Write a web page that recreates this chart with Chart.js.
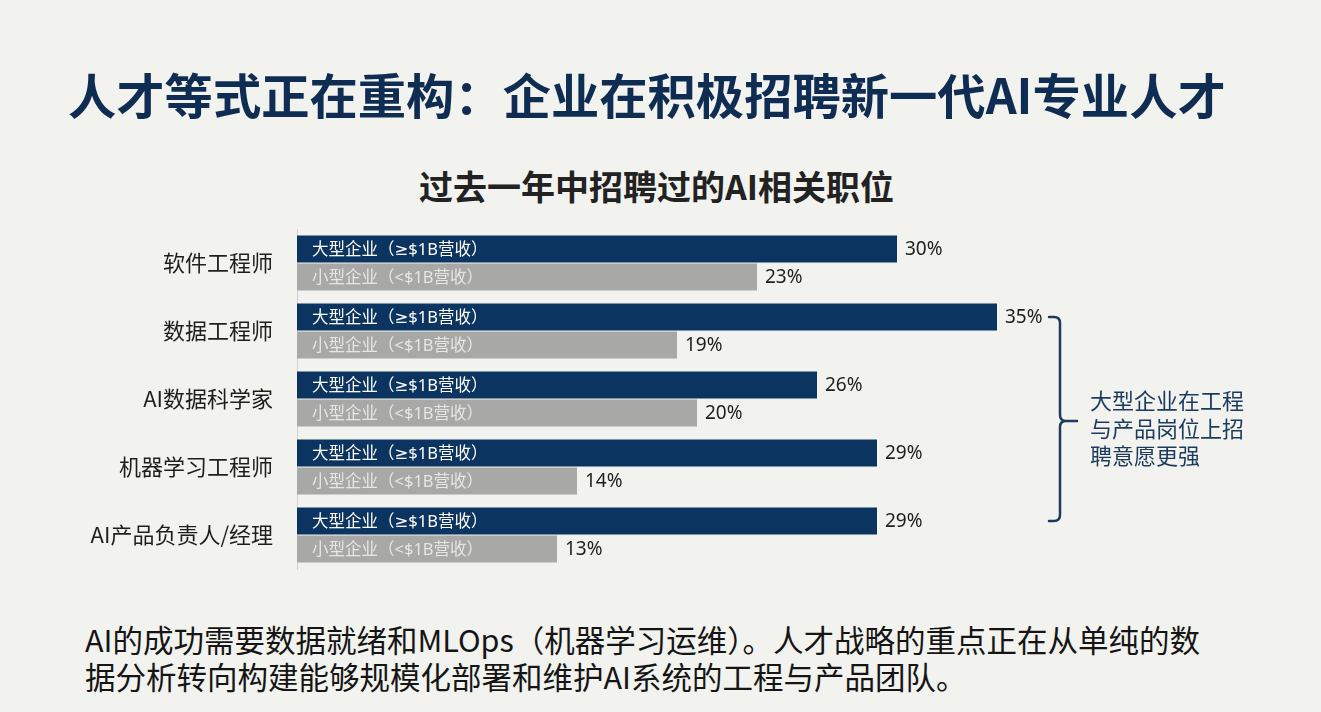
<!DOCTYPE html>
<html>
<head>
<meta charset="utf-8">
<script src="https://cdn.jsdelivr.net/npm/chart.js@4/dist/chart.umd.min.js"></script>
<style>
  html, body { margin:0; padding:0; }
  body { width:1321px; height:712px; background:#f2f2ee; position:relative; overflow:hidden;
         font-family:"Noto Sans CJK SC","Noto Sans",sans-serif; }
  #title { position:absolute; left:68px; top:69px; font-size:48.3px; line-height:48px; font-weight:700;
           color:#0f2d52; white-space:nowrap; }
  #subtitle { position:absolute; left:419px; top:169px; font-size:34px; line-height:34px; font-weight:700;
              color:#222; white-space:nowrap; }
  #note { position:absolute; left:1090px; top:386px; font-size:22px; line-height:27.5px; color:#1b3a5e; }
  #foot { position:absolute; left:85px; top:621px; font-size:30.5px; line-height:37px; color:#151515; white-space:nowrap; }
  #wrap { position:absolute; left:0; top:215px; width:1321px; height:370px; }
</style>
</head>
<body>
<div id="title">人才等式正在重构：企业在积极招聘新一代AI专业人才</div>
<div id="subtitle">过去一年中招聘过的AI相关职位</div>
<div id="wrap"><canvas id="c" width="1321" height="370"></canvas></div>
<div id="note">大型企业在工程<br>与产品岗位上招<br>聘意愿更强</div>
<div id="foot">AI的成功需要数据就绪和MLOps（机器学习运维）。人才战略的重点正在从单纯的数<br>据分析转向构建能够规模化部署和维护AI系统的工程与产品团队。</div>
<script>
const categories = ['软件工程师', '数据工程师', 'AI数据科学家', '机器学习工程师', 'AI产品负责人/经理'];
const seriesNames = ['大型企业（≥$1B营收）', '小型企业（<$1B营收）'];
const largeValues = [30, 35, 26, 29, 29];
const smallValues = [23, 19, 20, 14, 13];
const bracketFrom = 1; // 数据工程师
const bracketTo = 4;   // AI产品负责人/经理

const FONT = '"Noto Sans CJK SC", "Noto Sans", sans-serif';
const LABEL_FONT = '"Noto Sans", "DejaVu Sans", "Noto Sans CJK SC", sans-serif';

const labelPlugin = {
  id: 'labels',
  afterDatasetsDraw(chart) {
    const ctx = chart.ctx;
    ctx.save();
    ctx.textBaseline = 'middle';
    ctx.textAlign = 'left';
    chart.data.datasets.forEach((ds, di) => {
      const meta = chart.getDatasetMeta(di);
      meta.data.forEach((bar, i) => {
        ctx.font = '16.5px ' + LABEL_FONT;
        ctx.fillStyle = di === 0 ? '#ffffff' : '#e6e6e3';
        ctx.fillText(ds.label, bar.base + 15, bar.y + 1);
        ctx.font = '19px ' + LABEL_FONT;
        ctx.fillStyle = '#1e1e1e';
        ctx.fillText(ds.data[i] + '%', bar.x + 8, bar.y + 1);
      });
    });
    // bracket
    const x = chart.scales.x;
    const meta0 = chart.getDatasetMeta(0);
    const top = meta0.data[bracketFrom].y;
    const bottom = meta0.data[bracketTo].y;
    const mid = (top + bottom) / 2 + 2;
    const xL = x.getPixelForValue(37.6), xV = x.getPixelForValue(38.15), xT = x.getPixelForValue(39);
    const r = 6;
    ctx.strokeStyle = '#1e3a5f';
    ctx.lineWidth = 2.5;
    ctx.lineCap = 'round';
    ctx.beginPath();
    ctx.moveTo(xL, top);
    ctx.lineTo(xV - r, top);
    ctx.quadraticCurveTo(xV, top, xV, top + r);
    ctx.lineTo(xV, mid - r);
    ctx.quadraticCurveTo(xV, mid, xV + r, mid);
    ctx.lineTo(xT, mid);
    ctx.moveTo(xV + r, mid);
    ctx.quadraticCurveTo(xV, mid, xV, mid + r);
    ctx.lineTo(xV, bottom - r);
    ctx.quadraticCurveTo(xV, bottom, xV - r, bottom);
    ctx.lineTo(xL, bottom);
    ctx.stroke();
    ctx.restore();
  }
};

new Chart(document.getElementById('c'), {
  type: 'bar',
  data: {
    labels: categories,
    datasets: [
      { label: seriesNames[0], data: largeValues, backgroundColor: '#0c3461', borderWidth: 0,
        categoryPercentage: 0.82, barPercentage: 0.965 },
      { label: seriesNames[1], data: smallValues, backgroundColor: '#a8a8a7', borderWidth: 0,
        categoryPercentage: 0.82, barPercentage: 0.965 }
    ]
  },
  options: {
    indexAxis: 'y',
    responsive: false,
    devicePixelRatio: 1,
    animation: false,
    layout: { padding: { left: 0, right: 224, top: 14, bottom: 16 } },
    plugins: { legend: { display: false }, tooltip: { enabled: false }, title: { display: false } },
    scales: {
      x: { min: 0, max: 40, display: false },
      y: {
        grid: { display: false, drawTicks: false },
        border: { display: true, color: '#d2d2cf', width: 1 },
        ticks: { padding: 24, color: '#1e1e1e', font: { family: FONT, size: 22 } },
        afterFit(s) { s.width = 297; s.paddingTop = 0; s.paddingBottom = 0; }
      }
    }
  },
  plugins: [labelPlugin]
});
</script>
</body>
</html>
